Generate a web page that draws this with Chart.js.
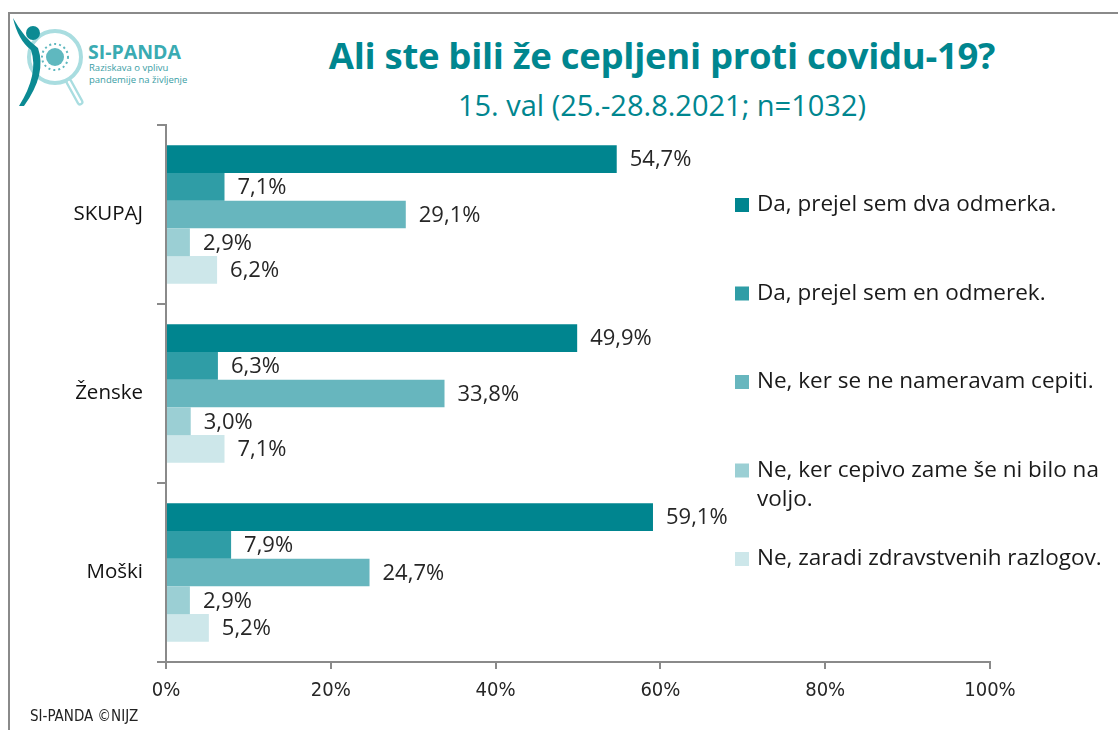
<!DOCTYPE html>
<html>
<head>
<meta charset="utf-8">
<script src="https://cdn.jsdelivr.net/npm/chart.js@4.4.0/dist/chart.umd.min.js"></script>
<style>
  html, body { margin: 0; padding: 0; background: #fff; }
  #wrap { position: relative; width: 1118px; height: 730px; overflow: hidden; }
  #frame { position: absolute; left: 8px; top: 12px; width: 1120px; height: 730px;
           border-left: 2px solid #8a8a8a; border-top: 2px solid #8a8a8a; }
  #c { position: absolute; left: 0; top: 0; }
  .title { position: absolute; left: 0; width: 1324px; text-align: center; color: #00868f; font-family: "Open Sans", sans-serif; white-space: nowrap; }
  #t1 { top: 33px; font-size: 36.5px; line-height: 44px; font-weight: 700; letter-spacing: -0.3px; }
  #t2 { top: 86px; font-size: 29px; line-height: 38px; font-weight: 400; }
  #logo { position: absolute; left: 10px; top: 14px; }
  #lt1 { position: absolute; left: 88px; top: 38px; font: 700 19.5px "Open Sans", sans-serif; color: #3aabb2; }
  #lt2 { position: absolute; left: 89px; top: 62px; font: 400 9.5px/12px "Open Sans", sans-serif; color: #3a9ea5; }
  #foot { position: absolute; left: 30px; top: 707px; font: 400 15px "Liberation Sans Narrow", "DejaVu Sans Condensed", sans-serif; color: #222; }
</style>
</head>
<body>
<div id="wrap">
  <div id="frame"></div>
  <svg id="logo" width="80" height="100" viewBox="0 0 80 100">
    <circle cx="45" cy="43" r="26" fill="none" stroke="#a9dde0" stroke-width="4"/>
    <line x1="59" y1="68" x2="70" y2="88" stroke="#a9dde0" stroke-width="7" stroke-linecap="round"/>
    <line x1="59" y1="68" x2="70" y2="88" stroke="#fff" stroke-width="2.5" stroke-linecap="round"/>
    <circle cx="45" cy="43" r="9" fill="#5fb8bf"/>
    <circle cx="45" cy="43" r="13" fill="none" stroke="#5fb8bf" stroke-width="2" stroke-dasharray="2 3"/>
    <circle cx="23" cy="19" r="7" fill="#0b8a93"/>
    <path d="M3 4 Q8 26 21 36 Q29 60 9 92 L14 92 Q37 60 28 34 Q14 24 3 4 Z" fill="#0b8a93"/>
  </svg>
  <div id="lt1">SI-PANDA</div>
  <div id="lt2">Raziskava o vplivu<br>pandemije na življenje</div>
  <div class="title" id="t1">Ali ste bili že cepljeni proti covidu-19?</div>
  <div class="title" id="t2">15. val (25.-28.8.2021; n=1032)</div>
  <canvas id="c" width="1118" height="730"></canvas>
  <div id="foot">SI-PANDA ©NIJZ</div>
</div>
<script>
// skupine in odgovori
var categories = ['SKUPAJ', 'Ženske', 'Moški'];
var seriesNames = [
    'Da, prejel sem dva odmerka.',
    'Da, prejel sem en odmerek.',
    'Ne, ker se ne nameravam cepiti.',
    'Ne, ker cepivo zame še ni bilo na voljo.',
    'Ne, zaradi zdravstvenih razlogov.'
];
var dvaOdmerka = [54.7, 49.9, 59.1];
var enOdmerek = [7.1, 6.3, 7.9];
var neNameravam = [29.1, 33.8, 24.7];
var niBiloNaVoljo = [2.9, 3.0, 2.9];
var zdravstveni = [6.2, 7.1, 5.2];
var xTicks = [0, 20, 40, 60, 80, 100];

var colors = ['#00858f', '#2f9da6', '#67b6be', '#9bcfd4', '#cde7ea'];
var txtFont = '"Open Sans", sans-serif';

var values = [dvaOdmerka, enOdmerek, neNameravam, niBiloNaVoljo, zdravstveni];
var datasets = [];
values.forEach(function (v, i) {
    datasets.push({
        label: seriesNames[i],
        data: v,
        backgroundColor: colors[i],
        borderWidth: 0,
        categoryPercentage: 0.775,
        barPercentage: 1.0
    });
});

// oznake vrednosti na koncu stolpcev
var valueLabels = {
    id: 'valueLabels',
    afterDatasetsDraw: function (chart) {
        var ctx = chart.ctx;
        ctx.save();
        ctx.font = '22px ' + txtFont;
        ctx.fillStyle = '#262626';
        ctx.textBaseline = 'middle';
        ctx.textAlign = 'left';
        chart.data.datasets.forEach(function (ds, i) {
            chart.getDatasetMeta(i).data.forEach(function (bar, j) {
                var txt = ds.data[j].toFixed(1).replace('.', ',') + '%';
                ctx.fillText(txt, bar.x + 13, bar.y + 1);
            });
        });
        ctx.restore();
    }
};

// legenda desno, znotraj grafa
var sideLegend = {
    id: 'sideLegend',
    afterDraw: function (chart) {
        var ctx = chart.ctx;
        var x = 735, y = 205, step = 88.5, maxW = 362;
        ctx.save();
        ctx.font = '22.5px ' + txtFont;
        ctx.textBaseline = 'middle';
        chart.data.datasets.forEach(function (ds, i) {
            var yy = y + i * step;
            ctx.fillStyle = ds.backgroundColor;
            ctx.fillRect(x, yy - 7, 14, 14);
            ctx.fillStyle = '#1a1a1a';
            var words = ds.label.split(' ');
            var line = '', ly = yy;
            words.forEach(function (w) {
                var test = line ? line + ' ' + w : w;
                if (ctx.measureText(test).width > maxW && line) {
                    ctx.fillText(line, x + 22, ly);
                    line = w;
                    ly += 29;
                } else {
                    line = test;
                }
            });
            ctx.fillText(line, x + 22, ly);
        });
        ctx.restore();
    }
};

var chart = new Chart(document.getElementById('c'), {
    type: 'bar',
    data: { labels: categories, datasets: datasets },
    plugins: [valueLabels, sideLegend],
    options: {
        indexAxis: 'y',
        responsive: false,
        animation: false,
        layout: { padding: { top: 125, right: 128, bottom: 0, left: 0 } },
        plugins: {
            legend: { display: false },
            tooltip: { enabled: false },
            title: { display: false }
        },
        scales: {
            x: {
                min: 0,
                max: 100,
                afterBuildTicks: function (scale) {
                    scale.ticks = xTicks.map(function (v) { return { value: v }; });
                },
                afterFit: function (scale) { scale.height = 68; },
                ticks: {
                    callback: function (v) { return v + '%'; },
                    color: '#262626',
                    padding: 10,
                    font: { family: '"Liberation Sans Narrow", "DejaVu Sans Condensed", sans-serif', size: 20 }
                },
                grid: { drawOnChartArea: false, drawTicks: true, tickLength: 7, color: '#8a8a8a', lineWidth: 2 },
                border: { color: '#8a8a8a', width: 2 }
            },
            y: {
                afterFit: function (scale) { scale.width = 166; },
                ticks: {
                    color: '#111',
                    padding: 14,
                    font: { family: txtFont, size: 20.5 }
                },
                grid: { offset: true, drawOnChartArea: false, drawTicks: true, tickLength: 9, color: '#8a8a8a', lineWidth: 2 },
                border: { color: '#8a8a8a', width: 2 }
            }
        }
    }
});
</script>
</body>
</html>
